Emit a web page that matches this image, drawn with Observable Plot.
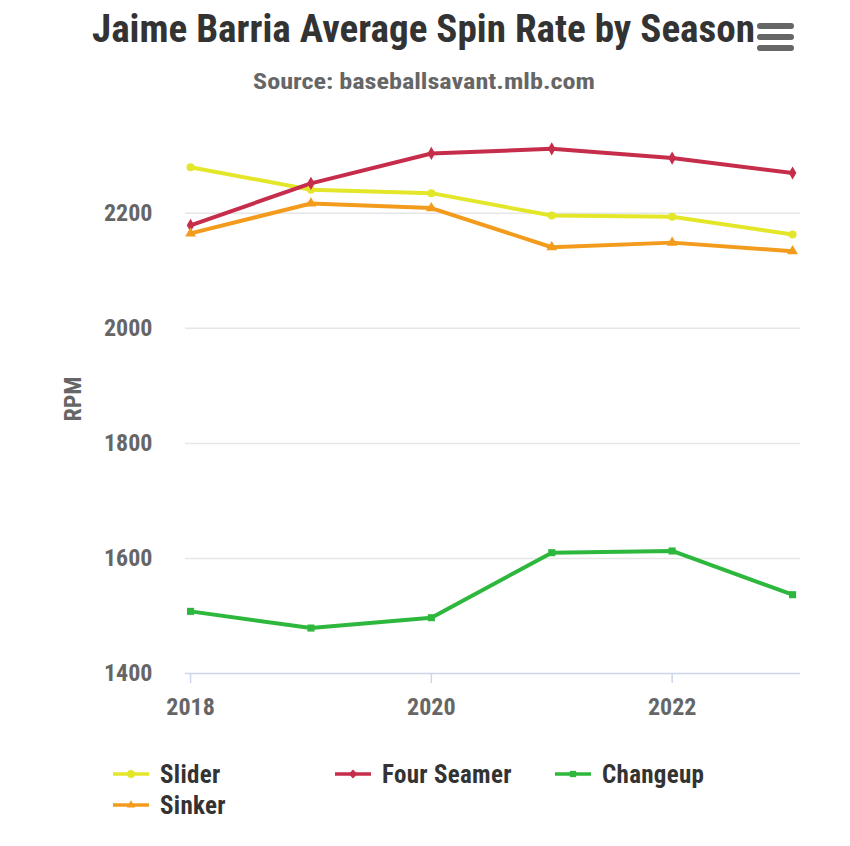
<!DOCTYPE html>
<html>
<head>
<meta charset="utf-8">
<script src="https://cdn.jsdelivr.net/npm/d3@7"></script>
<script src="https://cdn.jsdelivr.net/npm/@observablehq/plot@0.6"></script>
<style>
  html, body { margin: 0; padding: 0; background: #ffffff; }
  body { width: 850px; height: 846px; position: relative; overflow: hidden;
         font-family: "Roboto Condensed", "Liberation Sans Narrow", "DejaVu Sans Condensed", Roboto, sans-serif; }
  #head { position: absolute; left: 0; top: 0; }
  #chart { position: absolute; left: 0; top: 100px; }
  #legend { position: absolute; left: 0; top: 755px; width: 850px; height: 80px; }
  .item { position: absolute; display: flex; align-items: center; height: 30px;
          font-weight: bold; font-size: 25px; color: #333333; letter-spacing: 0.3px; }
  .item svg { margin-right: 11px; }
</style>
</head>
<body>
<svg id="head" width="850" height="100"></svg>
<div id="chart"></div>
<div id="legend"></div>
<script>
const titleText = "Jaime Barria Average Spin Rate by Season";
const subtitleText = "Source: baseballsavant.mlb.com";
const yLabel = "RPM";

const seasons = [2018, 2019, 2020, 2021, 2022, 2023];
const seriesNames = ["Slider", "Four Seamer", "Changeup", "Sinker"];
const seriesColors = ["#e4e629", "#c62d4b", "#2db83d", "#f29b1c"];
const seriesSymbols = ["circle", "diamond", "square", "triangle"];

const slider     = [2280, 2241, 2235, 2196, 2194, 2163];
const fourSeamer = [2179, 2252, 2304, 2312, 2296, 2270];
const changeup   = [1508, 1479, 1497, 1610, 1613, 1537];
const sinker     = [2165, 2217, 2209, 2141, 2149, 2134];

const yTicks = [1400, 1600, 1800, 2000, 2200];
const xTicks = [2018, 2020, 2022];

const valuesBySeries = [slider, fourSeamer, changeup, sinker];
const rows = [];
seriesNames.forEach((name, i) => {
  seasons.forEach((s, j) => rows.push({series: name, season: s, value: valuesBySeries[i][j]}));
});

const font = '"Roboto Condensed", "Liberation Sans Narrow", "DejaVu Sans Condensed", Roboto, sans-serif';

// Title block
const head = d3.select("#head");
head.append("text").attr("x", 92).attr("y", 42)
  .attr("textLength", 663).attr("lengthAdjust", "spacingAndGlyphs")
  .attr("font-family", font).attr("font-weight", "bold").attr("font-size", 38)
  .attr("fill", "#333333").text(titleText);
head.append("text").attr("x", 253).attr("y", 89)
  .attr("textLength", 342).attr("lengthAdjust", "spacingAndGlyphs")
  .attr("font-family", font).attr("font-weight", "bold").attr("font-size", 22)
  .attr("fill", "#666666").text(subtitleText);
// menu icon
[26, 37, 48].forEach(y => {
  head.append("line").attr("x1", 760).attr("x2", 791).attr("y1", y).attr("y2", y)
    .attr("stroke", "#666666").attr("stroke-width", 6).attr("stroke-linecap", "round");
});

const chart = Plot.plot({
  width: 850,
  height: 640,
  marginTop: 38,
  marginBottom: 67,
  marginLeft: 185,
  marginRight: 50,
  style: {fontFamily: font, background: "transparent", overflow: "visible"},
  x: {domain: [2017.958, 2023.066]},
  y: {domain: [1400, 2330]},
  color: {domain: seriesNames, range: seriesColors},
  symbol: {domain: seriesNames, range: seriesSymbols},
  marks: [
    Plot.gridY(yTicks.filter(t => t > 1400), {stroke: "#e6e6e6", strokeOpacity: 1, strokeWidth: 1.5}),
    Plot.ruleY([1400], {stroke: "#ccd6eb", strokeWidth: 1.5}),
    Plot.axisX(xTicks, {tickSize: 10, stroke: "#ccd6eb", strokeWidth: 1.5, tickPadding: 14,
      tickFormat: d => String(d), fontSize: 24, fontWeight: "bold", fill: "#666666", label: null}),
    Plot.axisY(yTicks, {tickSize: 0, tickPadding: 33, tickFormat: d => String(d),
      fontSize: 24, fontWeight: "bold", fill: "#666666", label: null}),
    Plot.text([yLabel], {frameAnchor: "left", textAnchor: "middle", dx: -112, dy: -7, rotate: -90,
      fontSize: 24, fontWeight: "bold", fill: "#666666"}),
    Plot.line(rows, {x: "season", y: "value", z: "series", stroke: "series", strokeWidth: 4,
      strokeLinejoin: "round", strokeLinecap: "round"}),
    Plot.dot(rows, {x: "season", y: "value", symbol: "series", fill: "series", r: 4})
  ]
});
document.getElementById("chart").appendChild(chart);

// Legend
const legendOrder = ["Slider", "Four Seamer", "Changeup", "Sinker"];
const legendPos = [[113, 4], [335, 4], [555, 4], [113, 35]];
const legend = d3.select("#legend");
legendOrder.forEach((name, k) => {
  const i = seriesNames.indexOf(name);
  const item = legend.append("div").attr("class", "item")
    .style("left", legendPos[k][0] + "px").style("top", legendPos[k][1] + "px");
  const svg = item.append("svg").attr("width", 36).attr("height", 14);
  svg.append("line").attr("x1", 0).attr("x2", 36).attr("y1", 7).attr("y2", 7)
    .attr("stroke", seriesColors[i]).attr("stroke-width", 3.5);
  const sym = d3.symbol().type({
    circle: d3.symbolCircle, diamond: d3.symbolDiamond2, square: d3.symbolSquare2, triangle: d3.symbolTriangle2
  }[seriesSymbols[i]]).size(50);
  svg.append("path").attr("d", sym()).attr("transform", "translate(18,7)").attr("fill", seriesColors[i]);
  item.append("span").text(name);
});
</script>
</body>
</html>
